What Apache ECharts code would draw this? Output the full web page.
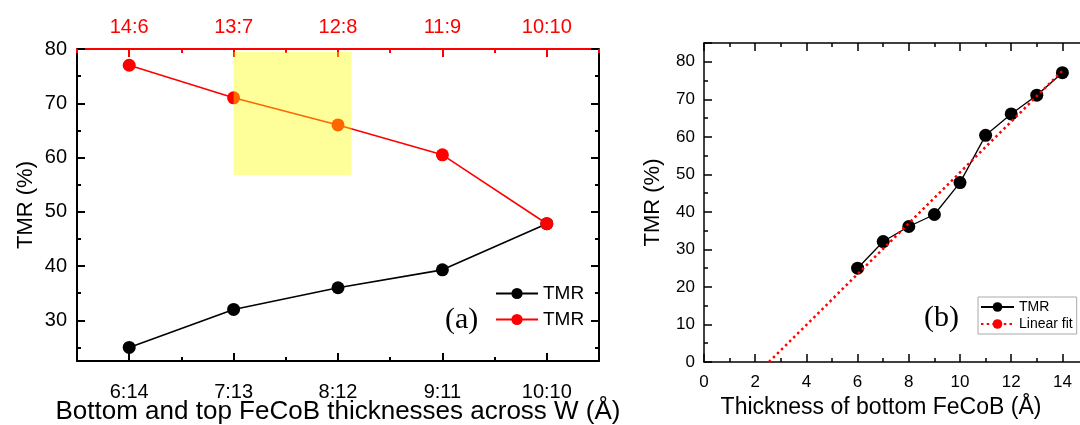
<!DOCTYPE html>
<html>
<head>
<meta charset="utf-8">
<script src="https://cdn.jsdelivr.net/npm/echarts@6/dist/echarts.min.js"></script>
<style>html,body{margin:0;padding:0;background:#fff}#c{width:1080px;height:425px}</style>
</head>
<body>
<div id="c"></div>
<script>
// ---- data ----
const bottomCats = ['6:14', '7:13', '8:12', '9:11', '10:10'];
const topCats = ['14:6', '13:7', '12:8', '11:9', '10:10'];
const blackTMR = [25, 32, 36, 39.3, 47.8];
const redTMR = [77, 71, 66, 60.5, 47.8];
const leftYMajor = [30, 40, 50, 60, 70, 80];
const leftYMinor = [25, 35, 45, 55, 65, 75];
// highlighted window: [x from, x to (category index units), y from, y to]
const highlight = [[1.0, 2.13, 56.8, 79.45]];
const thickX = [6, 7, 8, 9, 10, 11, 12, 13, 14];
const thickTMR = [25, 32.1, 36.1, 39.3, 47.8, 60.4, 66.1, 71.1, 77.1];
const fitLine = [[2.54, 0], [14, 77.6]];

const FONT = 'Liberation Sans';
const chart = echarts.init(document.getElementById('c'));

function catAxis(opt) {
  return Object.assign({
    type: 'category', gridIndex: 0, boundaryGap: true,
    axisLine: {show: true, onZero: false, lineStyle: {color: '#000', width: 2}},
    splitLine: {show: false}
  }, opt);
}

const option = {
  animation: false,
  backgroundColor: '#fff',
  textStyle: {fontFamily: FONT},
  grid: [
    {left: 77, right: 481, top: 49, bottom: 64, containLabel: false, outerBoundsMode: 'none'},
    {left: 704, right: -8, top: 43, bottom: 63, containLabel: false, outerBoundsMode: 'none'}
  ],
  xAxis: [
    catAxis({position: 'bottom', data: bottomCats,
      axisTick: {show: true, inside: true, alignWithLabel: true, length: 8, lineStyle: {color: '#000', width: 2}},
      axisLabel: {color: '#000', fontSize: 20, margin: 21, fontFamily: FONT},
      name: 'Bottom and top FeCoB thicknesses across W (Å)', nameLocation: 'middle', nameGap: 38,
      nameMoveOverlap: false,
      nameTextStyle: {color: '#000', fontSize: 26, fontFamily: FONT}}),
    catAxis({position: 'bottom', data: bottomCats, axisLine: {show: false, onZero: false},
      axisTick: {show: true, inside: true, alignWithLabel: false, length: 4, lineStyle: {color: '#000', width: 2}},
      axisLabel: {show: false}}),
    catAxis({position: 'top', data: topCats,
      axisLine: {show: true, onZero: false, lineStyle: {color: '#ff0000', width: 2}},
      axisTick: {show: true, inside: true, alignWithLabel: true, length: 8, lineStyle: {color: '#ff0000', width: 2}},
      axisLabel: {color: '#ff0000', fontSize: 20, margin: 12, fontFamily: FONT}}),
    catAxis({position: 'top', data: topCats, axisLine: {show: false, onZero: false},
      axisTick: {show: true, inside: true, alignWithLabel: false, length: 4, lineStyle: {color: '#ff0000', width: 2}},
      axisLabel: {show: false}}),
    {type: 'value', gridIndex: 0, min: -0.5, max: 4.5, show: false, axisLine: {onZero: false}},
    {type: 'value', gridIndex: 1, position: 'bottom', min: 0, max: 15, interval: 2,
      axisLine: {show: true, onZero: false, lineStyle: {color: '#000', width: 1.5}},
      axisTick: {show: true, inside: true, length: 8, lineStyle: {color: '#000', width: 1.5}},
      minorTick: {show: true, splitNumber: 2, length: 4, lineStyle: {color: '#000', width: 1.5}},
      axisLabel: {color: '#000', fontSize: 17, margin: 12, fontFamily: FONT,
        formatter: v => (v % 2 === 0 && v <= 14 ? String(v) : '')},
      splitLine: {show: false}, minorSplitLine: {show: false},
      name: 'Thickness of bottom FeCoB (Å)', nameLocation: 'middle', nameGap: 32,
      nameTextStyle: {color: '#000', fontSize: 23, fontFamily: FONT, padding: [0, 30, 0, 0]}},
    {type: 'value', gridIndex: 1, position: 'top', min: 0, max: 15, interval: 2,
      axisLine: {show: true, onZero: false, lineStyle: {color: '#000', width: 1.5}},
      axisTick: {show: true, inside: true, length: 8, lineStyle: {color: '#000', width: 1.5}},
      minorTick: {show: true, splitNumber: 2, length: 4, lineStyle: {color: '#000', width: 1.5}},
      axisLabel: {show: false}, splitLine: {show: false}}
  ],
  yAxis: [
    {type: 'value', gridIndex: 0, position: 'left', min: 22.5, max: 80,
      axisLine: {show: true, onZero: false, lineStyle: {color: '#000', width: 2}},
      axisTick: {show: true, inside: true, length: 8, customValues: leftYMajor, lineStyle: {color: '#000', width: 2}},
      axisLabel: {color: '#000', fontSize: 20, margin: 10, customValues: leftYMajor, fontFamily: FONT},
      splitLine: {show: false},
      name: 'TMR (%)', nameLocation: 'middle', nameGap: 40,
      nameTextStyle: {color: '#000', fontSize: 22, fontFamily: FONT}},
    {type: 'value', gridIndex: 0, position: 'left', min: 22.5, max: 80,
      axisLine: {show: false, onZero: false},
      axisTick: {show: true, inside: true, length: 4, customValues: leftYMinor, lineStyle: {color: '#000', width: 2}},
      axisLabel: {show: false}, splitLine: {show: false}},
    {type: 'value', gridIndex: 0, position: 'right', min: 22.5, max: 80,
      axisLine: {show: true, onZero: false, lineStyle: {color: '#000', width: 2}},
      axisTick: {show: true, inside: true, length: 8, customValues: leftYMajor, lineStyle: {color: '#000', width: 2}},
      axisLabel: {show: false}, splitLine: {show: false}},
    {type: 'value', gridIndex: 0, position: 'right', min: 22.5, max: 80,
      axisLine: {show: false, onZero: false},
      axisTick: {show: true, inside: true, length: 4, customValues: leftYMinor, lineStyle: {color: '#000', width: 2}},
      axisLabel: {show: false}, splitLine: {show: false}},
    {type: 'value', gridIndex: 1, position: 'left', min: 0, max: 85, interval: 10,
      axisLine: {show: true, onZero: false, lineStyle: {color: '#000', width: 1.5}},
      axisTick: {show: true, inside: true, length: 8, lineStyle: {color: '#000', width: 1.5}},
      minorTick: {show: true, splitNumber: 2, length: 4, lineStyle: {color: '#000', width: 1.5}},
      axisLabel: {color: '#000', fontSize: 17, margin: 9, fontFamily: FONT,
        formatter: v => (v % 10 === 0 ? String(v) : '')},
      splitLine: {show: false}, minorSplitLine: {show: false},
      name: 'TMR (%)', nameLocation: 'middle', nameGap: 40,
      nameTextStyle: {color: '#000', fontSize: 22, fontFamily: FONT}},
    {type: 'value', gridIndex: 1, position: 'right', min: 0, max: 85, interval: 10,
      axisLine: {show: true, onZero: false, lineStyle: {color: '#000', width: 1.5}},
      axisTick: {show: true, inside: true, length: 8, lineStyle: {color: '#000', width: 1.5}},
      minorTick: {show: true, splitNumber: 2, length: 4, lineStyle: {color: '#000', width: 1.5}},
      axisLabel: {show: false}, splitLine: {show: false}}
  ],
  legend: [
    {orient: 'vertical', left: 490, top: 279, itemGap: 7, itemWidth: 42, itemHeight: 14,
      data: ['TMR', 'TMR '], textStyle: {color: '#000', fontSize: 19, fontFamily: FONT},
      formatter: n => n.trim(), selectedMode: false},
    {orient: 'vertical', left: 978, top: 297, itemGap: 3, itemWidth: 33, itemHeight: 12,
      padding: [3, 4, 3, 2], borderColor: '#aaa', borderWidth: 1, borderRadius: 0,
      data: ['TMR  ', 'Linear fit'], textStyle: {color: '#000', fontSize: 14, fontFamily: FONT},
      formatter: n => n.trim(), selectedMode: false}
  ],
  series: [
    {name: 'TMR', type: 'line', xAxisIndex: 0, yAxisIndex: 0, data: blackTMR,
      symbol: 'circle', symbolSize: 13, itemStyle: {color: '#000'}, lineStyle: {color: '#000', width: 1.6}, z: 3},
    {name: 'TMR ', type: 'line', xAxisIndex: 2, yAxisIndex: 0, data: redTMR,
      symbol: 'circle', symbolSize: 13, itemStyle: {color: '#ff0000'}, lineStyle: {color: '#ff0000', width: 1.6}, z: 4},
    {name: 'window', type: 'custom', xAxisIndex: 4, yAxisIndex: 0, data: highlight, z: 20, silent: true,
      renderItem: function (params, api) {
        const p0 = api.coord([api.value(0), api.value(3)]);
        const p1 = api.coord([api.value(1), api.value(2)]);
        return {type: 'rect', shape: {x: p0[0], y: p0[1], width: p1[0] - p0[0], height: p1[1] - p0[1]},
          style: {fill: 'rgba(255,255,0,0.4)'}};
      }},
    {name: 'TMR  ', type: 'line', xAxisIndex: 5, yAxisIndex: 4,
      data: thickX.map((x, i) => [x, thickTMR[i]]),
      symbol: 'circle', symbolSize: 13, itemStyle: {color: '#000'}, lineStyle: {color: '#000', width: 1.3}, z: 3},
    {name: 'Linear fit', type: 'line', xAxisIndex: 5, yAxisIndex: 4, data: fitLine,
      symbol: 'none', showSymbol: false, itemStyle: {color: '#ff0000'},
      lineStyle: {color: '#ff0000', width: 2.5, type: [2.5, 3.2], cap: 'butt'}, z: 5}
  ],
  graphic: [
    {type: 'text', left: 445, top: 305, style: {text: '(a)', font: '30px "Liberation Serif"', fill: '#000'}},
    {type: 'text', left: 924, top: 303, style: {text: '(b)', font: '30px "Liberation Serif"', fill: '#000'}}
  ]
};
chart.setOption(option);
</script>
</body>
</html>
